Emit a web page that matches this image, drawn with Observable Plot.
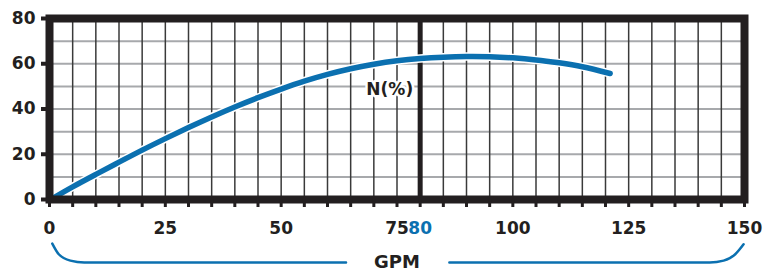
<!DOCTYPE html>
<html>
<head>
<meta charset="utf-8">
<script src="https://cdn.jsdelivr.net/npm/d3@7"></script>
<script src="https://cdn.jsdelivr.net/npm/@observablehq/plot@0.6"></script>
<style>
  html, body { margin: 0; padding: 0; background: #fff; }
  #chart svg { display: block; }
</style>
</head>
<body>
<div id="chart"></div>
<script>
// Efficiency curve N(%) vs flow (GPM)
const gpm  = [0.5, 5, 10, 15, 20, 25, 30, 35, 40, 45, 50, 55, 60, 65, 70, 75, 80, 85, 90, 95, 100, 105, 110, 115, 121];
const nPct = [0.3, 5.6, 11.1, 16.5, 21.8, 26.9, 31.8, 36.5, 40.9, 45.0, 48.8, 52.3, 55.3, 57.8, 59.8, 61.3, 62.3, 62.9, 63.2, 63.1, 62.6, 61.7, 60.4, 58.7, 55.7];

// Axis ticks / grid
const xTickLabels = [0, 25, 50, 75, 100, 125, 150];
const xMinor = d3.range(0, 151, 5);
const yTickLabels = [0, 20, 40, 60, 80];
const yGrid = [10, 20, 30, 40, 50, 60, 70];
const xGrid = d3.range(5, 150, 5);
const highlightGpm = [80];
const curveLabel = ["N(%)"];
const axisTitle = ["GPM"];

// Bracket under the x axis (in data units, drawn below the frame)
const bracketLeftX  = [0.6, 2, 4.5, 7.5, 64];
const bracketLeftY  = [-19.5, -24.2, -27, -27.8, -27.8];
const bracketRightX = [86.3, 142.5, 145.5, 148, 149.8];
const bracketRightY = [-27.8, -27.8, -27, -24.2, -19.8];

const curve = gpm.map((x, i) => ({x, y: nPct[i]}));
const bracket = [
  ...bracketLeftX.map((x, i) => ({x, y: bracketLeftY[i], side: "L"})),
  ...bracketRightX.map((x, i) => ({x, y: bracketRightY[i], side: "R"}))
];

const ink = "#231f20";
const blue = "#0b70b0";
const font = "DejaVu Sans";

const chart = Plot.plot({
  width: 775,
  height: 274,
  marginLeft: 49,
  marginRight: 31,
  marginTop: 18,
  marginBottom: 75,
  x: {domain: [0, 150]},
  y: {domain: [0, 80]},
  style: {fontFamily: font, fontWeight: 700, color: ink, background: "#fff", overflow: "visible"},
  marks: [
    Plot.ruleY(yGrid, {stroke: "#a7a9ac", strokeWidth: 2}),
    Plot.ruleX(xGrid, {stroke: "#3a3a3a", strokeWidth: 1.5}),
    Plot.ruleX(highlightGpm, {stroke: ink, strokeWidth: 5}),
    Plot.text(curveLabel, {x: highlightGpm[0], y: 48.6, dx: -7, text: d => d, textAnchor: "end",
      fontSize: 17, fontWeight: 700, fill: ink, stroke: "#fff", strokeWidth: 5}),
    Plot.line(curve, {x: "x", y: "y", curve: "natural", stroke: "#fff", strokeWidth: 8.5, strokeLinecap: "round"}),
    Plot.line(curve, {x: "x", y: "y", curve: "natural", stroke: blue, strokeWidth: 5.5, strokeLinecap: "round"}),
    Plot.frame({stroke: ink, strokeWidth: 8}),
    Plot.axisX(xMinor, {tickSize: 8, strokeWidth: 3, stroke: ink, tickFormat: () => "", label: null}),
    Plot.axisX(xTickLabels, {tickSize: 0, tickPadding: 22, fontSize: 17, fontWeight: 700, fill: ink, label: null}),
    Plot.axisX(highlightGpm, {tickSize: 0, tickPadding: 22, fontSize: 17, fontWeight: 700, fill: blue, label: null}),
    Plot.axisY(yTickLabels, {tickSize: 8, strokeWidth: 4, stroke: ink, tickPadding: 6, fontSize: 17, fontWeight: 700, fill: ink, label: null}),
    Plot.line(bracket, {x: "x", y: "y", z: "side", curve: "monotone-x", stroke: blue, strokeWidth: 2.5}),
    Plot.text(axisTitle, {x: 75, y: -27.6, text: d => d, fontSize: 18, fontWeight: 700, fill: ink})
  ]
});
document.getElementById("chart").append(chart);
</script>
</body>
</html>
